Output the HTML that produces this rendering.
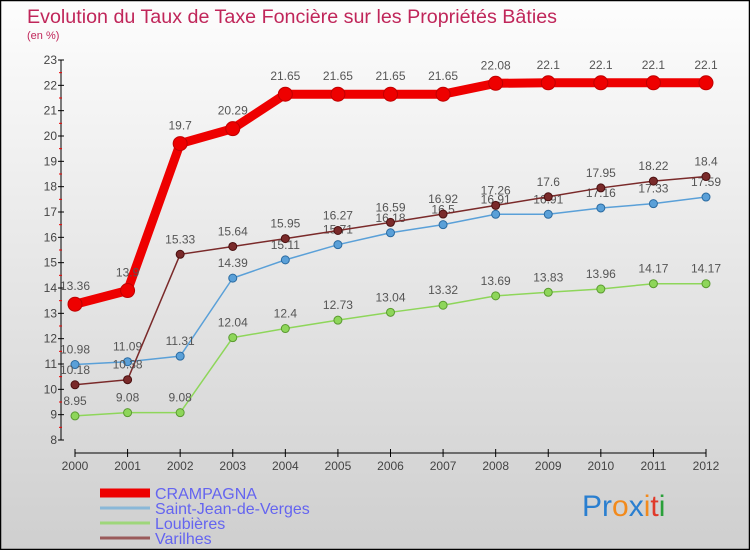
<!DOCTYPE html>
<html><head><meta charset="utf-8"><style>
html,body{margin:0;padding:0;}
body{width:750px;height:550px;overflow:hidden;font-family:"Liberation Sans",sans-serif;}
</style></head><body>
<svg id="chart" width="750" height="550" xmlns="http://www.w3.org/2000/svg" font-family="Liberation Sans, sans-serif">
<defs><linearGradient id="bg" x1="0" y1="0" x2="0" y2="1"><stop offset="0" stop-color="#fdfdfd"/><stop offset="1" stop-color="#cfcfcf"/></linearGradient></defs>
<rect x="0.5" y="0.5" width="749" height="549" fill="url(#bg)" stroke="#000" stroke-width="1.5"/>
<text x="27" y="23" font-size="19" fill="#c0265a" textLength="530" lengthAdjust="spacingAndGlyphs">Evolution du Taux de Taxe Foncière sur les Propriétés Bâties</text>
<text x="27" y="39" font-size="11" fill="#c0265a">(en %)</text>
<g id="axes"></g>
<g id="series"></g>
<g id="legend"></g>
<text x="582" y="516" font-size="30"><tspan fill="#2a7fd0">Pr</tspan><tspan fill="#f28a1c">o</tspan><tspan fill="#2a7fd0">x</tspan><tspan fill="#f28a1c">i</tspan><tspan fill="#e03a2a">t</tspan><tspan fill="#2aa03a">i</tspan></text>
</svg>
<script>
const years = [2000,2001,2002,2003,2004,2005,2006,2007,2008,2009,2010,2011,2012];
const yTicks = [8,9,10,11,12,13,14,15,16,17,18,19,20,21,22,23];
const crampagna = [13.36,13.9,19.7,20.29,21.65,21.65,21.65,21.65,22.08,22.1,22.1,22.1,22.1];
const saintJean = [10.98,11.09,11.31,14.39,15.11,15.71,16.18,16.5,16.91,16.91,17.16,17.33,17.59];
const loubieres = [8.95,9.08,9.08,12.04,12.4,12.73,13.04,13.32,13.69,13.83,13.96,14.17,14.17];
const varilhes = [10.18,10.38,15.33,15.64,15.95,16.27,16.59,16.92,17.26,17.6,17.95,18.22,18.4];
const seriesNames = ["CRAMPAGNA","Saint-Jean-de-Verges","Loubières","Varilhes"];

const NS="http://www.w3.org/2000/svg";
const x0=75,x1=706,yTop=60,yBot=440,vMin=8,vMax=23;
const xs=i=>x0+(x1-x0)*i/(years.length-1);
const ys=v=>yBot-(v-vMin)*(yBot-yTop)/(vMax-vMin);
function mk(tag,attrs,parent){const e=document.createElementNS(NS,tag);for(const k in attrs)e.setAttribute(k,attrs[k]);parent.appendChild(e);return e;}
const axes=document.getElementById('axes');
let yl=mk('line',{x1:61,y1:yTop,x2:61,y2:yBot,stroke:'#000','stroke-width':1},axes);


yTicks.forEach(t=>{
  const tk=mk('line',{x1:58,y1:ys(t),x2:64,y2:ys(t),stroke:'#000'},axes);
  
  
  const tx=mk('text',{x:57,y:ys(t)+4,'font-size':12,fill:'#444','text-anchor':'end'},axes);
  tx.textContent=t;
  
  
  if(t<vMax){const m=mk('line',{x1:59,y1:ys(t+0.5),x2:62,y2:ys(t+0.5),stroke:'#e00'},axes);
  
  }
});
let xl=mk('line',{x1:x0,y1:453,x2:x1,y2:453,stroke:'#000'},axes);


years.forEach((y,i)=>{
  const tk=mk('line',{x1:xs(i),y1:449,x2:xs(i),y2:457,stroke:'#000'},axes);
  
  
  const tx=mk('text',{x:xs(i),y:470,'font-size':12,fill:'#444','text-anchor':'middle'},axes);
  tx.textContent=y;
  
  
});
const sg=document.getElementById('series');
function draw(vals,color,dark,lw,r,name){
  const g=mk('g',{},sg);
  
  
  const pl=mk('polyline',{points:vals.map((v,i)=>xs(i)+','+ys(v)).join(' '),fill:'none',stroke:color,'stroke-width':lw,'stroke-linejoin':'round'},g);
  
  
  vals.forEach((v,i)=>{
    const c=mk('circle',{cx:xs(i),cy:ys(v),r:r,fill:color,stroke:dark,'stroke-width':1},g);
    
    
    const t=mk('text',{x:xs(i),y:ys(v)-r-7,'font-size':12,fill:'#555','text-anchor':'middle'},g);
    t.textContent=v;
    
    
  });
}
draw(loubieres,'#8ed65a','#5a9a30',1.5,4,'loubieres-series');
draw(saintJean,'#5aa0d8','#2a6aa0',1.5,4,'saint-jean-series');
draw(varilhes,'#7a2a2a','#4a1010',1.5,4,'varilhes-series');
draw(crampagna,'#ee0000','#c00000',9,7,'crampagna-series');
const lg=document.getElementById('legend');
const lc=['#ee0000','#8ab8d8','#9ed67a','#9a5a5a'];
const lw=[9,3,3,3];
const ly=[493,508,523,538];
seriesNames.forEach((n,i)=>{
  const l=mk('line',{x1:100,y1:ly[i],x2:150,y2:ly[i],stroke:lc[i],'stroke-width':lw[i]},lg);
  
  
  const t=mk('text',{x:155,y:ly[i]+6,'font-size':16,fill:'#6464f0'},lg);
  t.textContent=n;
  
  
});
</script>
</body></html>
